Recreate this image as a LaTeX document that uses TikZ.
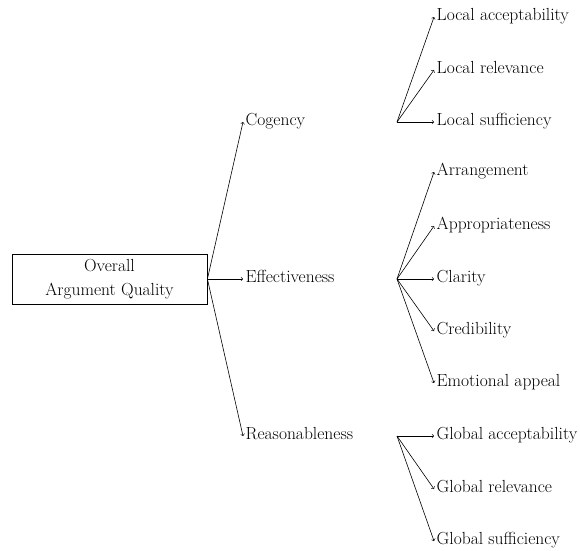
\documentclass[tikz,border=0pt]{standalone}
\usepackage{fontspec}
\setmainfont{Latin Modern Roman}
\begin{document}
\begin{tikzpicture}[x=1pt,y=-1pt,
  label/.style={anchor=west,inner sep=2.5pt,text height=11pt,text depth=4pt,font=\fontsize{17.5}{24}\selectfont},
  rootbox/.style={draw,line width=0.8pt,minimum width=195pt,minimum height=50pt,align=center,inner sep=2pt,font=\fontsize{17.5}{24}\selectfont},
  link/.style={->,>=to,line width=0.6pt}]
\useasboundingbox (0,0) rectangle (580,550);

% root
\node[rootbox] (root) at (109.5,279) {Overall\\Argument Quality};

% middle level
\node[label] (cog) at (243,122) {Cogency};
\node[label] (eff) at (243,279) {Effectiveness};
\node[label] (rea) at (243,436) {Reasonableness};

\draw[link] (root.east) -- (cog.west);
\draw[link] (root.east) -- (eff.west);
\draw[link] (root.east) -- (rea.west);

% fan-out points
\coordinate (fc) at (397,122);
\coordinate (fe) at (397,279);
\coordinate (fr) at (397,436);

% cogency leaves
\node[label] (la) at (434,17) {Local acceptability};
\node[label] (lr) at (434,70) {Local relevance};
\node[label] (ls) at (434,122) {Local sufficiency};
% effectiveness leaves
\node[label] (ar) at (434,172) {Arrangement};
\node[label] (ap) at (434,226) {Appropriateness};
\node[label] (cl) at (434,279) {Clarity};
\node[label] (cr) at (434,331) {Credibility};
\node[label] (em) at (434,383) {Emotional appeal};
% reasonableness leaves
\node[label] (ga) at (434,436) {Global acceptability};
\node[label] (gr) at (434,489) {Global relevance};
\node[label] (gs) at (434,541) {Global sufficiency};

\foreach \t in {la,lr,ls} \draw[link] (fc) -- (\t.west);
\foreach \t in {ar,ap,cl,cr,em} \draw[link] (fe) -- (\t.west);
\foreach \t in {ga,gr,gs} \draw[link] (fr) -- (\t.west);
\end{tikzpicture}
\end{document}
